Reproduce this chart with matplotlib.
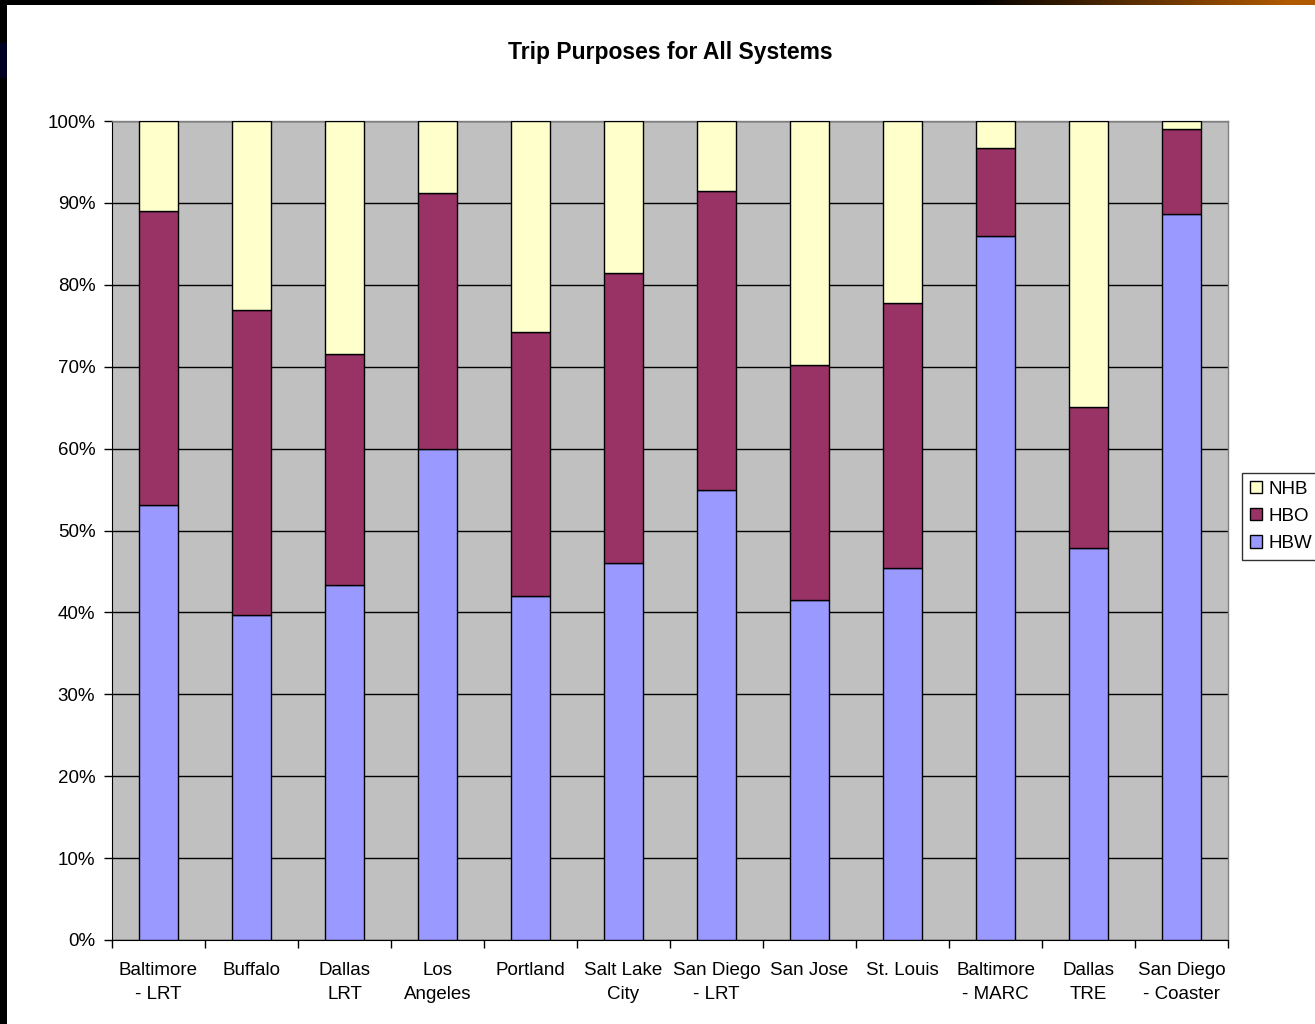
import numpy as np
import matplotlib
matplotlib.use("Agg")
import matplotlib.pyplot as plt
from matplotlib.patches import Rectangle

plt.rcParams['font.family'] = ['Liberation Sans', 'DejaVu Sans']

systems = ["Baltimore\n- LRT", "Buffalo", "Dallas\nLRT", "Los\nAngeles", "Portland",
           "Salt Lake\nCity", "San Diego\n- LRT", "San Jose", "St. Louis",
           "Baltimore\n- MARC", "Dallas\nTRE", "San Diego\n- Coaster"]
hbw = [53.1, 39.7, 43.3, 59.9, 42.0, 46.0, 54.9, 41.5, 45.4, 85.9, 47.9, 88.7]
hbo = [35.9, 37.2, 28.3, 31.3, 32.2, 35.4, 36.6, 28.7, 32.4, 10.8, 17.2, 10.3]
nhb = [100 - a - b for a, b in zip(hbw, hbo)]

col_hbw = "#9999FF"
col_hbo = "#993366"
col_nhb = "#FFFFCC"

W, H = 1315, 1024
fig = plt.figure(figsize=(W / 100, H / 100), dpi=100)
fig.patch.set_facecolor("white")

# slide frame: black left edge and dark-to-orange top band
fig.patches.append(Rectangle((0, 0), 7 / W, 1, transform=fig.transFigure,
                             facecolor="black", edgecolor="none", zorder=5))
fig.patches.append(Rectangle((0, 1 - 78 / H), 7 / W, 35 / H, transform=fig.transFigure,
                             facecolor="#000022", edgecolor="none", zorder=6))
band = fig.add_axes([0, 1 - 5 / H, 1, 5 / H])
xs = np.linspace(0, 1, 600)
r = np.clip((xs - 0.74) / 0.24, 0, 1)
grad = np.stack([0.69 * r, 0.35 * r, 0.0 * r], axis=-1)[None, :, :]
band.imshow(grad, aspect="auto", extent=[0, 1, 0, 1])
band.set_axis_off()

ax = fig.add_axes([112 / W, 1 - 940 / H, (1228 - 112) / W, (940 - 121) / H])
ax.set_facecolor("#C0C0C0")

x = np.arange(len(systems))
width = 0.41
bottom2 = np.array(hbw)
bottom3 = bottom2 + np.array(hbo)
b1 = ax.bar(x, hbw, width, color=col_hbw, edgecolor="black", linewidth=1.0, label="HBW", zorder=3)
b2 = ax.bar(x, hbo, width, bottom=bottom2, color=col_hbo, edgecolor="black", linewidth=1.0, label="HBO", zorder=3)
b3 = ax.bar(x, nhb, width, bottom=bottom3, color=col_nhb, edgecolor="black", linewidth=1.0, label="NHB", zorder=3)

ax.set_xlim(-0.5, len(systems) - 0.5)
ax.set_ylim(0, 100)
ax.set_yticks(np.arange(0, 101, 10))
ax.set_yticklabels([f"{v}%" for v in range(0, 101, 10)], fontsize=13.5)
ax.yaxis.grid(True, color="black", linewidth=1.0, zorder=1)
ax.set_axisbelow(True)

ax.set_xticks(x)
ax.set_xticklabels(systems, fontsize=13.5, linespacing=1.55)
ax.set_xticks(np.arange(-0.5, len(systems), 1), minor=True)
ax.tick_params(axis="x", which="major", length=0, pad=16)
ax.tick_params(axis="x", which="minor", length=6, width=1, color="black")
ax.tick_params(axis="y", length=6, width=1, color="black", pad=6)

for side in ("top", "right"):
    ax.spines[side].set_color("#808080")
    ax.spines[side].set_linewidth(1.0)
ax.spines["left"].set_color("black")
ax.spines["bottom"].set_color("black")

fig.text((112 + 1228) / 2 / W, 1 - 53 / H, "Trip Purposes for All Systems",
         ha="center", va="center", fontsize=16.5, fontweight="bold")

leg = fig.legend([b3, b2, b1], ["NHB", "HBO", "HBW"], loc="upper left",
                 bbox_to_anchor=(1242 / W, 1 - 473 / H), fontsize=13.5,
                 frameon=True, fancybox=False, edgecolor="black",
                 handlelength=0.65, handleheight=0.65, handletextpad=0.35,
                 borderpad=0.4, labelspacing=0.55, borderaxespad=0)
leg.get_frame().set_linewidth(1.0)

fig.savefig("out.png", dpi=100)
